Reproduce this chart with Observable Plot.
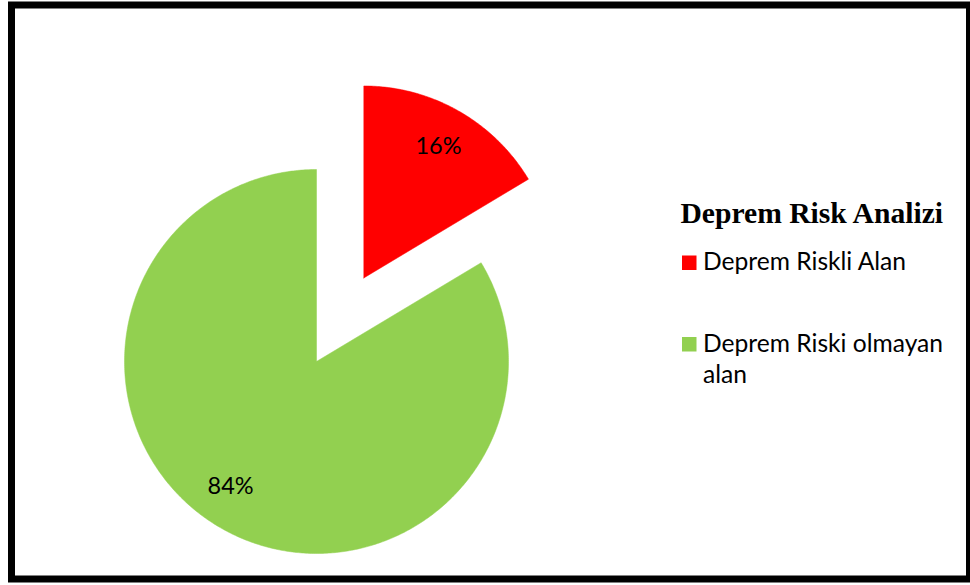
<!DOCTYPE html>
<html>
<head>
<meta charset="utf-8">
<script src="https://cdn.jsdelivr.net/npm/d3@7"></script>
<script src="https://cdn.jsdelivr.net/npm/@observablehq/plot@0.6"></script>
<style>
  html, body { margin: 0; padding: 0; background: #fff; }
  #wrap { position: relative; width: 970px; height: 585px; overflow: hidden; }
  #wrap > svg { position: absolute; left: 0; top: 0; }
</style>
</head>
<body>
<div id="wrap"></div>
<script>
// ---- data ----
const categories = ["Deprem Riskli Alan", "Deprem Riski olmayan alan"];
const values = [16.4, 83.6];
const colors = ["#FF0000", "#92D050"];
const explode = [0.5, 0];           // explode distance (fraction of radius)
const labelShiftDeg = [0, 5];       // label angle nudge (best-fit placement)
const legendTitle = "Deprem Risk Analizi";
const legendLines = [["Deprem Riskli Alan"], ["Deprem Riski olmayan", "alan"]];

// ---- layout ----
const W = 970, H = 585;
const R = 192, cx = 316, cy = 361;

const total = d3.sum(values);
const fmt = d3.format(".0%");

// build slice outlines in radius units (y up)
const rows = [];
const labels = [];
let start = 0;
values.forEach((v, i) => {
  const span = v / total * 2 * Math.PI;
  const end = start + span;
  const mid = (start + end) / 2;
  const ox = explode[i] * Math.sin(mid), oy = explode[i] * Math.cos(mid);
  rows.push({k: i, x: ox, y: oy});
  const n = Math.max(8, Math.ceil(span / 0.01));
  for (let j = 0; j <= n; j++) {
    const a = start + span * j / n;
    rows.push({k: i, x: ox + Math.sin(a), y: oy + Math.cos(a)});
  }
  rows.push({k: i, x: ox, y: oy});
  const la = mid + labelShiftDeg[i] * Math.PI / 180;
  labels.push({k: i, x: ox + 0.79 * Math.sin(la), y: oy + 0.79 * Math.cos(la), text: fmt(v / total)});
  start = end;
});

const plot = Plot.plot({
  width: W, height: H,
  margin: 0,
  x: {domain: [-cx / R, (W - cx) / R], range: [0, W], axis: null},
  y: {domain: [-(H - cy) / R, cy / R], range: [H, 0], axis: null},
  style: {background: "transparent"},
  marks: [
    Plot.line(rows, {x: "x", y: "y", z: "k", fill: d => colors[d.k], stroke: d => colors[d.k], strokeWidth: 0.5, curve: "linear"}),
    Plot.text(labels, {x: "x", y: "y", text: "text", fontSize: 23.5, fill: "#000", fontFamily: "Lato, 'Open Sans', sans-serif"})
  ]
});
document.getElementById("wrap").appendChild(plot);

// ---- legend + frame overlay ----
const svg = d3.select("#wrap").append("svg").attr("width", W).attr("height", H);
svg.append("rect").attr("x", 11.5).attr("y", 5).attr("width", 958).attr("height", 574)
  .attr("fill", "none").attr("stroke", "#000").attr("stroke-width", 7);

svg.append("text").attr("x", 680.5).attr("y", 223)
  .attr("font-family", "'Liberation Serif', 'Times New Roman', serif")
  .attr("font-weight", "bold").attr("font-size", 29.6).text(legendTitle);

const itemY = [270, 351.5];
legendLines.forEach((lines, i) => {
  svg.append("rect").attr("x", 682).attr("y", itemY[i] - 14.5).attr("width", 14.5).attr("height", 14.5)
    .attr("fill", colors[i]);
  lines.forEach((t, j) => {
    svg.append("text").attr("x", 703).attr("y", itemY[i] + j * 31.5)
      .attr("font-family", "Lato, 'Open Sans', sans-serif").attr("font-size", 24.6)
      .attr("fill", "#000").text(t);
  });
});
</script>
</body>
</html>
